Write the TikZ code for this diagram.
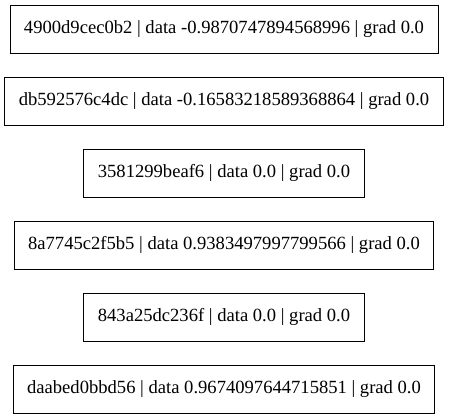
\documentclass[tikz,border=0pt]{standalone}
\usepackage{fontspec}
\setmainfont{Liberation Serif}
\usetikzlibrary{positioning}

\begin{document}
\begin{tikzpicture}[node distance=23.2pt,
every node/.style = {shape=rectangle, draw, line width=0.9pt,
	font=\fontsize{18.6pt}{21pt}\selectfont, inner xsep=14pt,
	minimum height=48pt, align=center}]
	\useasboundingbox (0,0) rectangle (449pt,-419pt);
	\node (a) at (224pt,-29pt) {4900d9cec0b2 | data -0.9870747894568996 | grad 0.0};
	\node (b) [below=of a] {db592576c4dc | data -0.16583218589368864 | grad 0.0};
	\node (c) [below=of b] {3581299beaf6 | data 0.0 | grad 0.0};
	\node (d) [below=of c] {8a7745c2f5b5 | data 0.9383497997799566 | grad 0.0};
	\node (e) [below=of d] {843a25dc236f | data 0.0 | grad 0.0};
	\node (f) [below=of e] {daabed0bbd56 | data 0.9674097644715851 | grad 0.0};
\end{tikzpicture}
\end{document}
